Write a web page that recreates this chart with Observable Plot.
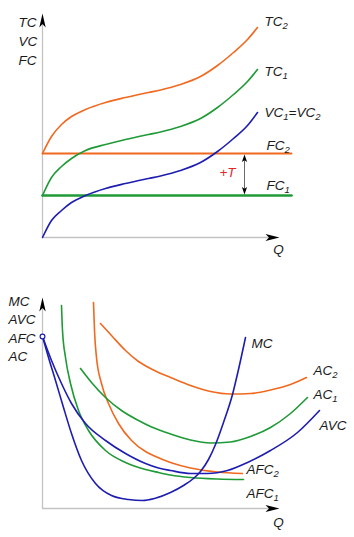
<!DOCTYPE html>
<html><head><meta charset="utf-8">
<script src="https://cdn.jsdelivr.net/npm/d3@7"></script>
<script src="https://cdn.jsdelivr.net/npm/@observablehq/plot@0.6"></script>
<style>body{margin:0;background:#fff} svg{display:block;background:#fff}</style>
</head><body><div id="chart"></div>
<script>
// ---------- colours ----------
const ORANGE = "#f0691f", GREEN = "#1f9a36", BLUE = "#1d1db2", RED = "#e2262a", AXIS = "#c3c3c3", INK = "#1b1b1b";
const FONT = "'Liberation Sans', Arial, sans-serif";

// ---------- top chart data (Q, cost) ----------
const qTop = [0, 9, 19, 29, 43, 63, 83, 106, 118, 138, 158, 175, 191, 205, 215];
const vVC  = [0, 17, 27, 35, 42, 49, 54, 59, 61.5, 67, 75, 86, 99, 112, 125];
const vTC1 = [42, 60, 71, 79, 87, 93, 98, 103, 105.5, 111, 119, 130, 143, 156, 168];
const vTC2 = [84, 101, 113, 121, 128, 135, 140, 145, 147.5, 153, 161, 172, 185, 198, 210];
const qFC  = [0, 249];
const FC1 = 42, FC2 = 84;
const qTax = 202;                       // position of the +T arrow
const topAxis = {qMax: 237, vMax: 224}; // arrow tips

const topLabels = [
  {t: "TC₂", q: 222, v: 216},
  {t: "TC₁", q: 222, v: 166},
  {t: "VC₁=VC₂", q: 222, v: 125},
  {t: "FC₂", q: 224, v: 92},
  {t: "FC₁", q: 224, v: 52},
  {t: "TC", q: -24, v: 215},
  {t: "VC", q: -24, v: 196},
  {t: "FC", q: -24, v: 177}
];
const topQ = [{t: "Q", q: 236, v: -12}];

// ---------- bottom chart data (Q, unit cost) ----------
const qMC  = [0, 6, 13, 21, 29, 39, 53, 69, 86, 100, 112, 128, 141, 151, 158, 166, 173, 181, 190, 196, 203];
const vMC  = [172, 151, 128, 101, 75, 48, 25, 13, 9, 8, 10, 16, 23, 30, 37, 49, 64, 86, 114, 139, 171];
const qAVC = [0, 9, 19, 29, 43, 63, 83, 103, 116, 128, 148, 165, 185, 205, 228, 255, 277];
const vAVC = [172, 148, 125, 105, 85, 68, 55, 45, 40.5, 38, 35, 35, 38, 46, 58, 76, 98];
const qAFC1 = [19, 20, 23, 28, 36, 46, 63, 83, 103, 116, 128, 148, 175, 201];
const vAFC1 = [203, 178, 151, 125, 98, 78, 58, 46, 39, 36, 33.5, 31, 29.5, 29];
const qAFC2 = [51, 52, 54, 59, 66, 76, 89, 103, 112, 128, 148, 175, 200];
const vAFC2 = [206, 178, 151, 125, 105, 85, 68, 57, 52.5, 46, 40.5, 36.5, 35];
const qAC1 = [38, 49, 63, 79, 96, 108, 128, 148, 168, 188, 208, 228, 248, 265];
const vAC1 = [140, 126, 111, 98, 88, 82, 74.5, 68.5, 65.5, 66.5, 72, 81, 95, 111];
const qAC2 = [58, 69, 83, 96, 108, 116, 128, 148, 168, 188, 208, 228, 248, 264];
const vAC2 = [185, 173, 158, 147, 140, 136, 131, 123, 117, 114.5, 115, 118.5, 124, 131];
const startPoint = {q: 0, v: 172};
const botAxis = {qMax: 237, vMax: 211};

const botLabels = [
  {t: "MC", q: 209, v: 165},
  {t: "AC₂", q: 271, v: 138},
  {t: "AC₁", q: 271, v: 114},
  {t: "AVC", q: 277, v: 83},
  {t: "AFC₂", q: 204, v: 39},
  {t: "AFC₁", q: 204, v: 15},
  {t: "MC",  q: -34, v: 207},
  {t: "AVC", q: -34, v: 189},
  {t: "AFC", q: -34, v: 170},
  {t: "AC",  q: -34, v: 152}
];
const botQ = [{t: "Q", q: 236, v: -14}];

// ---------- helpers ----------
const pts = (qs, vs) => qs.map((q, i) => ({q, v: vs[i]}));
const upHead = {draw(c) { c.moveTo(0, 0); c.lineTo(3.2, 14); c.lineTo(0, 10.5); c.lineTo(-3.2, 14); c.closePath(); }};
const rightHead = {draw(c) { c.moveTo(0, 0); c.lineTo(-14, -3.5); c.lineTo(-10.5, 0); c.lineTo(-14, 3.5); c.closePath(); }};
const upSmall = {draw(c) { c.moveTo(0, 0); c.lineTo(2.6, 7.5); c.lineTo(0, 5.8); c.lineTo(-2.6, 7.5); c.closePath(); }};
const downSmall = {draw(c) { c.moveTo(0, 0); c.lineTo(2.6, -7.5); c.lineTo(0, -5.8); c.lineTo(-2.6, -7.5); c.closePath(); }};
const curve = (data, stroke, w = 1.6) => Plot.line(data, {x: "q", y: "v", stroke, strokeWidth: w, curve: "monotone-x"});
const labels = (arr, anchor) => Plot.text(arr, {x: "q", y: "v", text: "t", textAnchor: anchor, fill: INK,
  fontSize: 13.5, fontStyle: "italic", fontFamily: FONT});
const axes = (ax) => [
  Plot.ruleX([0], {y1: 0, y2: ax.vMax - 8, stroke: AXIS, strokeWidth: 1.3}),
  Plot.ruleY([0], {x1: 0, x2: ax.qMax - 8, stroke: AXIS, strokeWidth: 1.3}),
  Plot.dot([{q: 0, v: ax.vMax}], {x: "q", y: "v", symbol: upHead, fill: "#000", stroke: null}),
  Plot.dot([{q: ax.qMax, v: 0}], {x: "q", y: "v", symbol: rightHead, fill: "#000", stroke: null})
];

function subscripts(svg) {
  d3.select(svg).selectAll("text").each(function () {
    const s = this.textContent;
    if (!/[₁₂]/.test(s)) return;
    const el = d3.select(this); el.text(null);
    let wasSub = false;
    for (const part of s.match(/[₁₂]+|[^₁₂]+/g)) {
      const isSub = /[₁₂]/.test(part);
      const ts = el.append("tspan").text(isSub ? part.replace(/₁/g, "1").replace(/₂/g, "2") : part);
      if (isSub) ts.attr("font-size", 9.5).attr("dy", 3.5);
      else if (wasSub) ts.attr("dy", -3.5);
      wasSub = isSub;
    }
  });
  return svg;
}

// ---------- top plot ----------
const topChart = Plot.plot({
  width: 354, height: 270,
  marginLeft: 42, marginRight: 72, marginTop: 13, marginBottom: 33,
  x: {domain: [0, 240], axis: null},
  y: {domain: [0, 224], axis: null},
  style: {fontFamily: FONT, background: "#fff"},
  marks: [
    ...axes(topAxis),
    Plot.line(pts(qFC, qFC.map(() => FC2)), {x: "q", y: "v", stroke: ORANGE, strokeWidth: 1.8}),
    Plot.line(pts(qFC, qFC.map(() => FC1)), {x: "q", y: "v", stroke: GREEN, strokeWidth: 2.6}),
    curve(pts(qTop, vTC2), ORANGE),
    curve(pts(qTop, vTC1), GREEN),
    curve(pts(qTop, vVC), BLUE),
    Plot.ruleX([qTax], {y1: FC1 + 4, y2: FC2 - 4, stroke: "#444", strokeWidth: 0.8}),
    Plot.dot([{q: qTax, v: FC2 - 1}], {x: "q", y: "v", symbol: upSmall, fill: "#000", stroke: null}),
    Plot.dot([{q: qTax, v: FC1 + 1}], {x: "q", y: "v", symbol: downSmall, fill: "#000", stroke: null}),
    Plot.text([{t: "+T", q: 185, v: 65}], {x: "q", y: "v", text: "t", fill: RED, fontSize: 13.5,
      fontStyle: "italic", fontFamily: FONT}),
    labels(topLabels, "start"),
    labels(topQ, "middle")
  ]
});

// ---------- bottom plot ----------
const bottomChart = Plot.plot({
  width: 354, height: 267,
  marginLeft: 42, marginRight: 72, marginTop: 27, marginBottom: 29,
  x: {domain: [0, 240], axis: null},
  y: {domain: [0, 211], axis: null},
  style: {fontFamily: FONT, background: "#fff"},
  marks: [
    ...axes(botAxis),
    curve(pts(qAC2, vAC2), ORANGE),
    curve(pts(qAFC2, vAFC2), ORANGE),
    curve(pts(qAC1, vAC1), GREEN),
    curve(pts(qAFC1, vAFC1), GREEN),
    curve(pts(qAVC, vAVC), BLUE),
    curve(pts(qMC, vMC), BLUE),
    Plot.dot([startPoint], {x: "q", y: "v", r: 2.4, stroke: BLUE, fill: "#fff", strokeWidth: 1.2}),
    labels(botLabels, "start"),
    labels(botQ, "middle")
  ]
});

const root = document.getElementById("chart");
root.append(subscripts(topChart), subscripts(bottomChart));
</script>
</body></html>
